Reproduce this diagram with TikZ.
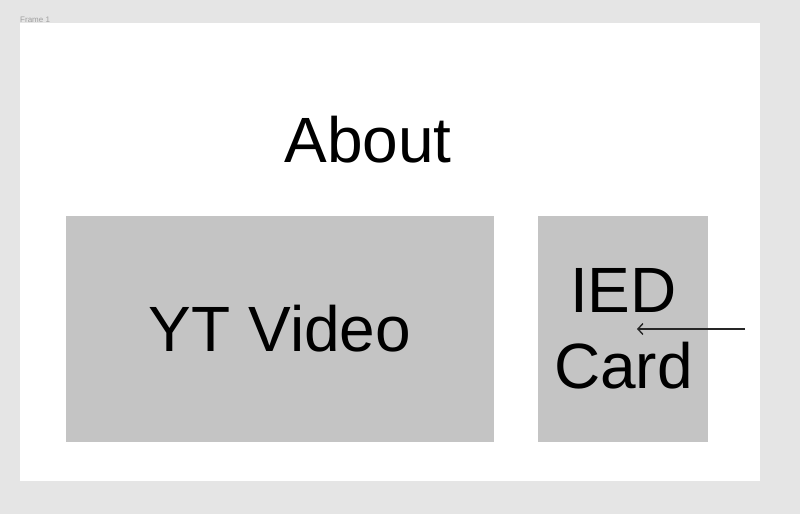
\documentclass[tikz,border=0pt]{standalone}
\usepackage{fontspec}
\setmainfont{Liberation Sans}
\usetikzlibrary{positioning, arrows.meta}
\definecolor{my_canvas}{RGB}{229, 229, 229}
\definecolor{my_box}{RGB}{196, 196, 196}
\definecolor{my_label}{RGB}{160, 160, 160}
\tikzset {
  frame/.style = {fill=white, draw=none},
  box/.style = {fill=my_box, draw=none, inner sep=0pt, align=center, font=\fontsize{64}{76}\selectfont},
  title/.style = {inner sep=0pt, font=\fontsize{64}{76}\selectfont},
  framelabel/.style = {inner sep=0pt, anchor=base west, text=my_label, font=\fontsize{8}{9}\selectfont},
  pointer/.style = {-{Straight Barb[length=5pt, width=11pt]}, line width=1.4pt, color=black!85}
}

\begin{document}
\begin{tikzpicture}[x=1pt, y=-1pt]

    % canvas and frame
    \fill[my_canvas] (0,0) rectangle (800,514);
    \useasboundingbox (0,0) rectangle (800,514);
    \node[framelabel, name=lbl] (lbl) at (20,22) {Frame 1};
    \fill[frame] (20,23) rectangle (760,481);

    \node[title, name=about] (about) at (368,140) {About};
    \node[box, name=video, minimum width=428pt, minimum height=226pt] (video) at (280,329) {YT Video};
    \node[box, name=card, minimum width=170pt, minimum height=226pt, right=44pt of video] (card) {IED\\Card};

    \coordinate (tail) at (745,329);
    \coordinate (tip) at (637,329);
    \draw[pointer] (tail) -- (tip);

\end{tikzpicture}
\end{document}
